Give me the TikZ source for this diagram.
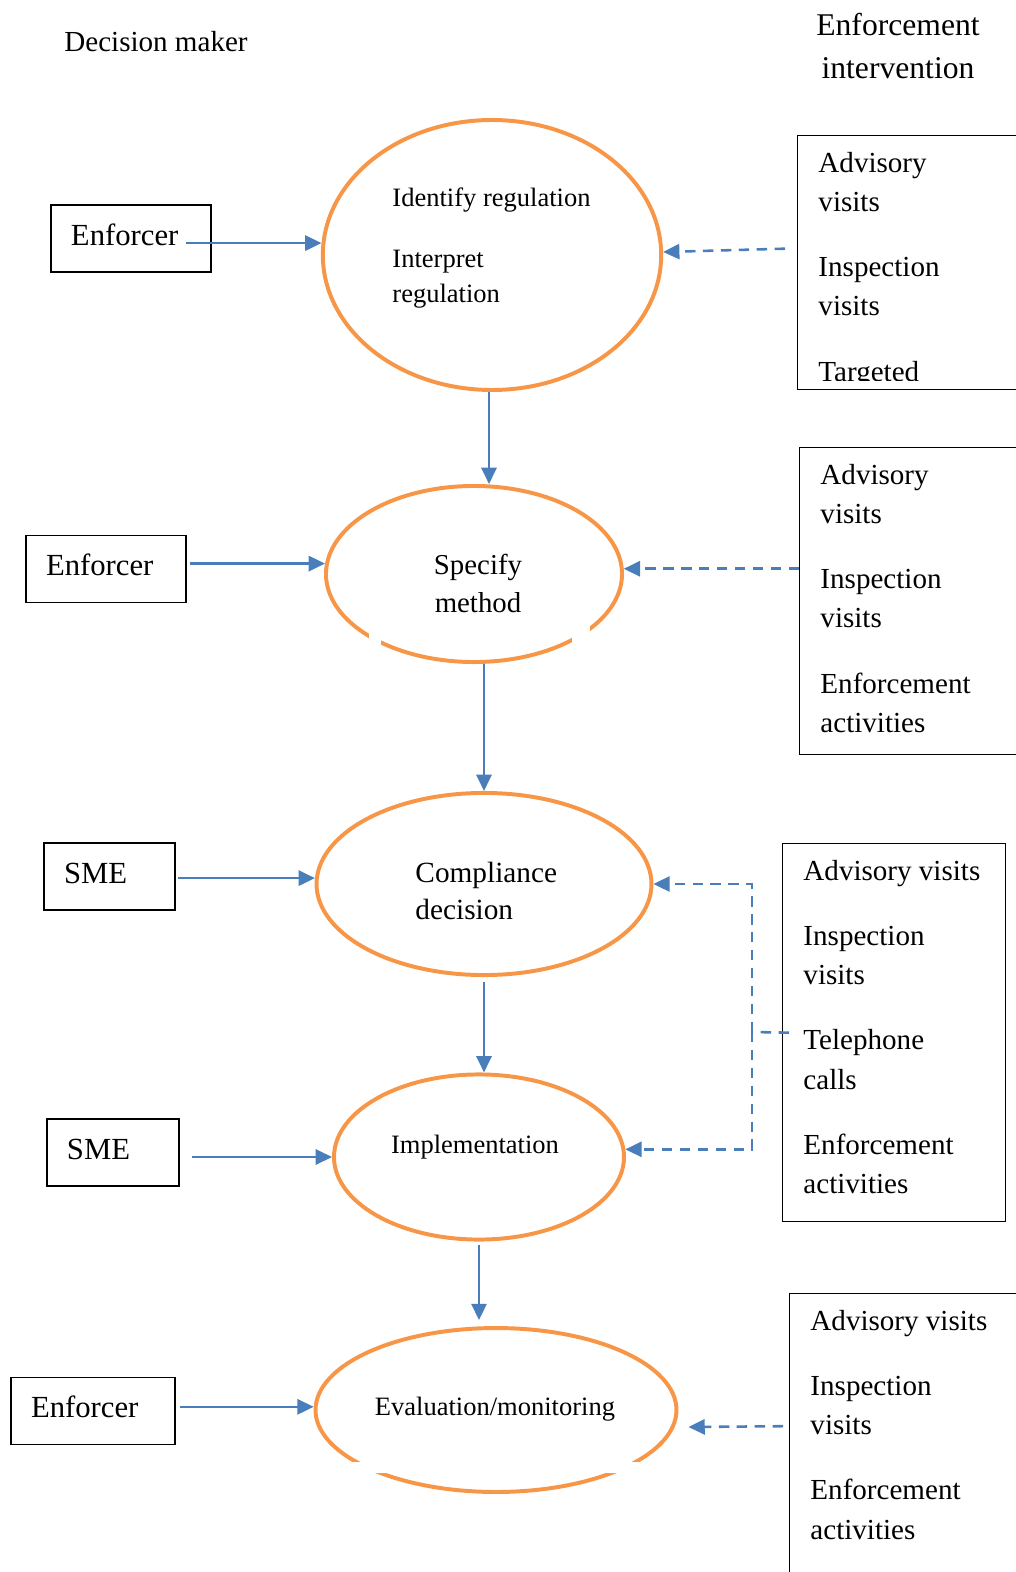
\documentclass[tikz,border=0pt]{standalone}
\usepackage{fontspec}
\setmainfont{Liberation Serif}
\usetikzlibrary{shapes.geometric,arrows.meta,calc}

\definecolor{stageorange}{HTML}{F79646}
\definecolor{flowblue}{HTML}{4A7EBB}

\tikzset{
  stage/.style={ellipse, draw=stageorange, line width=1.7pt, inner sep=0pt},
  actor/.style={draw, line width=0.6pt, align=left, inner xsep=8.6pt, inner ysep=0pt,
    text height=12pt, text depth=6pt, minimum height=28.8pt, font=\fontsize{13.2}{16}\selectfont},
  listbox/.style={draw, line width=0.6pt, inner sep=0pt, anchor=north west},
  listtxt/.style={align=left, inner sep=0pt, anchor=north west, font=\fontsize{12.5}{16.8}\selectfont},
  smalltxt/.style={inner sep=0pt, font=\fontsize{11.4}{15}\selectfont},
  arr/.style={draw=flowblue, line width=1.1pt, -{Triangle[length=7pt,width=6.5pt]}},
  dline/.style={draw=flowblue, line width=1.1pt, dash pattern=on 4.5pt off 3.2pt},
  darr/.style={arr, dash pattern=on 4.5pt off 3.2pt},
}

\begin{document}
\begin{tikzpicture}[x=0.43pt,y=-0.43pt]
  \useasboundingbox (0,0) rectangle (1015,1572);

  % headings
  \node[anchor=base, font=\fontsize{12.5}{15}\selectfont] (dm) at (156,52) {Decision maker};
  \node[anchor=north, align=center, inner sep=0pt, font=\fontsize{13.6}{18.5}\selectfont] (ei) at (898,12.5) {Enforcement\\intervention};

  % stages
  \node[stage, minimum width=145.5pt, minimum height=116.1pt] (e1) at (492,255) {};
  \node[stage, minimum width=127.3pt, minimum height=75.7pt] (e2) at (474,574) {};
  \node[stage, minimum width=144pt, minimum height=78.3pt] (e3) at (484,884) {};
  \node[stage, minimum width=124.7pt, minimum height=71pt] (e4) at (479,1157) {};
  \node[stage, minimum width=155.2pt, minimum height=70.5pt] (e5) at (496,1410) {};

  % gaps in the outlines
  \fill[white] (369,633) rectangle (381,646);
  \fill[white] (572,626) rectangle (590,645);
  \fill[white] (348,1462) rectangle (645,1473);

  \node[smalltxt, anchor=north west, align=left] (e1t) at (392,187) {Identify regulation\\[11.6pt]Interpret\\regulation};
  \node[anchor=north, align=center, inner sep=0pt, font=\fontsize{12.4}{16.3}\selectfont] (e2t) at (478,554) {Specify\\method};
  \node[anchor=north west, align=left, inner sep=0pt, font=\fontsize{12.6}{15.9}\selectfont] (e3t) at (415,862) {Compliance\\decision};
  \node[smalltxt, anchor=base] (e4t) at (475,1153) {Implementation};
  \node[smalltxt, anchor=base] (e5t) at (495,1415) {Evaluation/monitoring};

  % decision makers
  \node[actor, text width=51.6pt] (b1) at (131,238.5) {Enforcer};
  \node[actor, text width=51.6pt] (b2) at (106,569) {Enforcer};
  \node[actor, text width=39.1pt] (b3) at (109.5,876.5) {SME};
  \node[actor, text width=39.6pt] (b4) at (113,1152.5) {SME};
  \node[actor, text width=53.3pt] (b5) at (93,1411) {Enforcer};

  \draw[arr] ($(b1.east |- e1.176)+(-26,0)$) -- (e1.176);
  \draw[arr] ($(b2.east |- e2.176)+(3,0)$) -- (e2.176);
  \draw[arr] ($(b3.east |- e3.178)+(2,0)$) -- (e3.178);
  \draw[arr] ($(b4.east |- e4.west)+(12,0)$) -- (e4.west);
  \draw[arr] ($(b5.east |- e5.179)+(4,0)$) -- (e5.179);

  \draw[arr] ($(e1.south)+(-3,0)$) -- ($(e1.south |- e2.north)+(-3,0)$);
  \draw[arr] (e3.north |- e2.south) -- (e3.north);
  \draw[arr] ($(e3.south)+(0,5)$) -- (e3.south |- e4.north);
  \draw[arr] ($(e4.south)+(0,3)$) -- ($(e4.south |- e5.north)+(0,-6)$);

  % interventions
  \node[listbox, minimum width=100.2pt, minimum height=109.2pt] (rb1) at (797,135) {};
  \begin{scope}
    \clip (797,135) rectangle (1015,381);
    \node[listtxt] (rb1t) at ([shift={(21,17)}]rb1.north west) {Advisory\\visits\\[11.2pt]Inspection\\visits\\[11.2pt]Targeted};
  \end{scope}
  \node[listbox, minimum width=99.3pt, minimum height=132pt] (rb2) at (799,447) {};
  \node[listtxt] (rb2t) at ([shift={(21,17)}]rb2.north west) {Advisory\\visits\\[11.2pt]Inspection\\visits\\[11.2pt]Enforcement\\activities};
  \node[listbox, minimum width=95.9pt, minimum height=162.5pt] (rb3) at (782,843) {};
  \node[listtxt] (rb3t) at ([shift={(21,17)}]rb3.north west) {Advisory visits\\[11.2pt]Inspection\\visits\\[11.2pt]Telephone\\calls\\[11.2pt]Enforcement\\activities};
  \node[listbox, minimum width=103.6pt, minimum height=132pt] (rb4) at (789,1293) {};
  \node[listtxt] (rb4t) at ([shift={(21,17)}]rb4.north west) {Advisory visits\\[11.2pt]Inspection\\visits\\[11.2pt]Enforcement\\activities};

  \draw[darr] ($(rb1.west)+(-12,-14)$) -- (e1.1);
  \draw[darr] (rb2.west |- e2.2) -- (e2.2);
  \coordinate (jn) at (752,1032);
  \draw[dline] ($(rb3.west)+(7,0)$) -- (jn);
  \draw[darr] (jn) |- (e3.east);
  \draw[darr] (jn) |- (e4.3);
  \draw[darr] ($(rb4.west)+(-6,-21)$) -- ($(e5.east)+(10,17)$);
\end{tikzpicture}
\end{document}
